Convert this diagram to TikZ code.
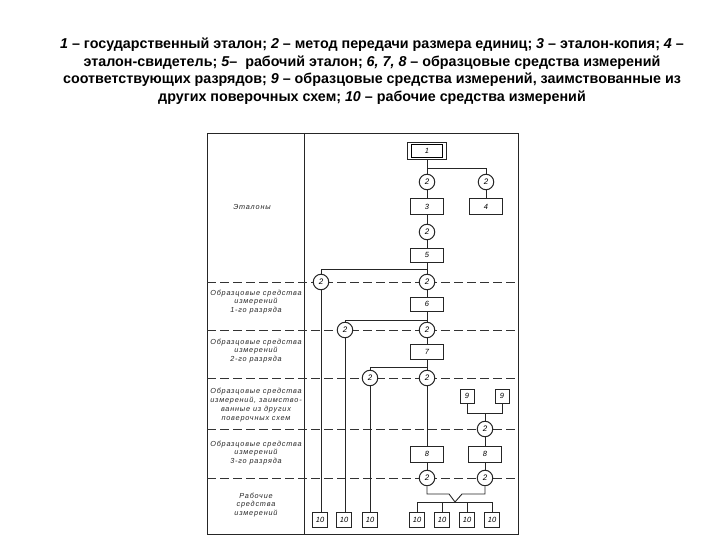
\documentclass[tikz,border=0pt]{standalone}
\usepackage{fontspec}
\setmainfont{Liberation Sans}
\newfontfamily\hand[LetterSpace=11]{Liberation Sans}
\begin{document}
\begin{tikzpicture}[x=1pt,y=-1pt,
  ln/.style={line width=0.9pt, draw=black!85},
  dsh/.style={line width=0.9pt, draw=black!80, dash pattern=on 9pt off 4pt},
  box/.style={draw=black!85, line width=1pt, fill=white, minimum width=33pt, minimum height=16pt, inner sep=0pt, font=\fontsize{7.5}{8}\selectfont\itshape},
  sbox/.style={box, minimum width=14pt, minimum height=14pt},
  tbox/.style={box, minimum width=15pt, minimum height=15pt},
  circ/.style={circle, draw=black!85, line width=1pt, fill=white, minimum size=15.5pt, inner sep=0pt, font=\fontsize{8}{8}\selectfont\itshape},
  lab/.style={align=center, font=\hand\fontsize{7.3}{8.8}\selectfont\itshape, text=black!85}]
\useasboundingbox (0,0) rectangle (720,540);

% header
\node[align=center, font=\fontsize{14.3}{17.5}\selectfont\bfseries] (head) at (372,71)
{\textit{1} – государственный эталон; \textit{2} – метод передачи размера единиц; \textit{3} – эталон-копия; \textit{4} –\\
эталон-свидетель; \textit{5}–\ \ рабочий эталон; \textit{6, 7, 8} – образцовые средства измерений\\
соответствующих разрядов; \textit{9} – образцовые средства измерений, заимствованные из\\
других поверочных схем; \textit{10} – рабочие средства измерений};

% frame
\draw[ln] (207,133) rectangle (518,534);
\draw[ln] (304,133) -- (304,534);
\foreach \yy in {282,330,378,429,478} \draw[dsh] (207,\yy) -- (518,\yy);

% left labels
\node[lab] (l0) at (252,207) {Эталоны};
\node[lab] (l1) at (256,302) {Образцовые средства\\измерений\\1-го разряда};
\node[lab] (l2) at (256,351) {Образцовые средства\\измерений\\2-го разряда};
\node[lab] (l3) at (256,405) {Образцовые средства\\измерений, заимство-\\ванные из других\\поверочных схем};
\node[lab] (l4) at (256,453) {Образцовые средства\\измерений\\3-го разряда};
\node[lab] (l5) at (256,505) {Рабочие\\средства\\измерений};

% nodes
\node[box, minimum width=39pt, minimum height=17pt, line width=1.6pt] (b1) at (427,151) {1};
\draw[line width=0.8pt] ([shift={(4.5pt,-2.5pt)}]b1.north west) rectangle ([shift={(-4.5pt,2.5pt)}]b1.south east);
\node[circ] (c1) at (427,182) {2};
\node[circ] (c1r) at (486,182) {2};
\node[box] (b3) at (427,207) {3};
\node[box] (b4) at (486,207) {4};
\node[circ] (c2) at (427,232) {2};
\node[box, minimum height=14pt] (b5) at (427,255) {5};
\node[circ] (c3) at (427,282) {2};
\node[circ] (c3l) at (321,282) {2};
\node[box, minimum height=14pt] (b6) at (427,304) {6};
\node[circ] (c4) at (427,330) {2};
\node[circ] (c4l) at (345,330) {2};
\node[box, minimum height=15pt] (b7) at (427,352) {7};
\node[circ] (c5) at (427,378) {2};
\node[circ] (c5l) at (370,378) {2};
\node[sbox] (b9a) at (467,396) {9};
\node[sbox] (b9b) at (502,396) {9};
\node[circ] (c6) at (485,429) {2};
\node[box] (b8a) at (427,454) {8};
\node[box] (b8b) at (485,454) {8};
\node[circ] (c7) at (427,478) {2};
\node[circ] (c7r) at (485,478) {2};
\node[tbox] (t1) at (320,520) {10};
\node[tbox] (t2) at (344,520) {10};
\node[tbox] (t3) at (370,520) {10};
\node[tbox] (t4) at (417,520) {10};
\node[tbox] (t5) at (442,520) {10};
\node[tbox] (t6) at (467,520) {10};
\node[tbox] (t7) at (492,520) {10};

% junctions
\coordinate (j1) at (427,168);
\coordinate (j2) at (427,269);
\coordinate (j3) at (427,320);
\coordinate (j4) at (427,367);
\coordinate (j5) at (485,413);
\coordinate (fl) at (449,494);
\coordinate (fr) at (462,494);
\coordinate (v) at (455,502);

% connectors
\draw[ln] (b1) -- (c1);
\draw[ln] (j1) -| (c1r);
\draw[ln] (c1) -- (b3);
\draw[ln] (c1r) -- (b4);
\draw[ln] (b3) -- (c2);
\draw[ln] (c2) -- (b5);
\draw[ln] (b5) -- (c3);
\draw[ln] (j2) -| (c3l);
\draw[ln] (c3) -- (b6);
\draw[ln] (b6) -- (c4);
\draw[ln] (j3) -| (c4l);
\draw[ln] (c4) -- (b7);
\draw[ln] (b7) -- (c5);
\draw[ln] (j4) -| (c5l);
\draw[ln] (c5) -- (b8a);
\draw[ln] (c3l) -- (c3l |- t1.north);
\draw[ln] (c4l) -- (c4l |- t2.north);
\draw[ln] (c5l) -- (t3);
\draw[ln] (b9a) |- (j5);
\draw[ln] (b9b) |- (j5);
\draw[ln] (j5) -- (c6);
\draw[ln] (c6) -- (b8b);
\draw[ln] (b8a) -- (c7);
\draw[ln] (b8b) -- (c7r);
\draw[ln] (c7) |- (fl) -- (v) -- (fr) -| (c7r);
\draw[ln] (t4 |- v) -- (t7 |- v);
\foreach \t in {t4,t5,t6,t7} \draw[ln] (\t |- v) -- (\t);
\end{tikzpicture}
\end{document}
